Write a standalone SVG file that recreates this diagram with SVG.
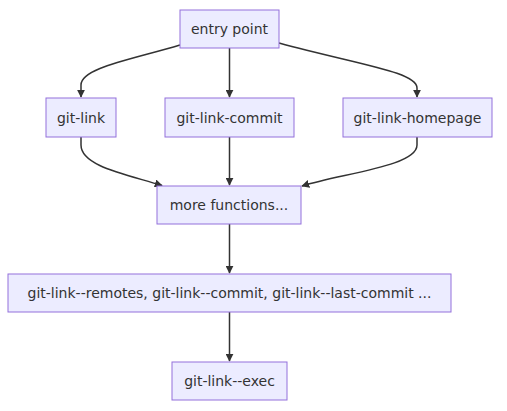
<svg xmlns="http://www.w3.org/2000/svg" width="507" height="411" viewBox="0 0 507 411">
<style>
.node rect{fill:#ECECFF;stroke:#9370DB;stroke-width:1}
.node text{font-family:"DejaVu Sans",sans-serif;font-size:14px;fill:#333;text-anchor:middle}
.edge{fill:none;stroke:#333;stroke-width:1.5}
</style>
<defs>
<marker id="arr" viewBox="0 0 10 10" refX="9" refY="5" markerWidth="8" markerHeight="8" markerUnits="userSpaceOnUse" orient="auto">
<path d="M0,0 L10,5 L0,10 z" fill="#333"/>
</marker>
</defs>
<rect width="507" height="411" fill="#fff"/>
<g id="connectors">
<path class="edge" d="M180,45 C130,60 81,68 81,85 L81,97" marker-end="url(#arr)"/>
<path class="edge" d="M229.5,48 L229.5,97" marker-end="url(#arr)"/>
<path class="edge" d="M279,43 C360,65 417,72 417,88 L417,97" marker-end="url(#arr)"/>
<path class="edge" d="M81,137 L81,145 C81,166 125,174 162,185.5" marker-end="url(#arr)"/>
<path class="edge" d="M229.5,137 L229.5,185" marker-end="url(#arr)"/>
<path class="edge" d="M417,137 L417,145 C417,166 345,173 302,186" marker-end="url(#arr)"/>
<path class="edge" d="M229.5,224 L229.5,273" marker-end="url(#arr)"/>
<path class="edge" d="M229.5,312 L229.5,361" marker-end="url(#arr)"/>
</g>
<g id="entry" class="node"><rect x="180" y="10" width="99" height="38"/><text x="229.5" y="34">entry point</text></g>
<g id="gitlink" class="node"><rect x="46" y="98" width="70" height="39"/><text x="81" y="122.5">git-link</text></g>
<g id="gitlinkcommit" class="node"><rect x="165" y="98" width="129" height="39"/><text x="229.5" y="122.5">git-link-commit</text></g>
<g id="gitlinkhomepage" class="node"><rect x="343" y="98" width="149" height="39"/><text x="417.5" y="122.5">git-link-homepage</text></g>
<g id="more" class="node"><rect x="157" y="186" width="144" height="38"/><text x="229" y="210">more functions...</text></g>
<g id="internal" class="node"><rect x="8" y="274" width="443" height="38"/><text x="229.5" y="298">git-link--remotes, git-link--commit, git-link--last-commit ...</text></g>
<g id="exec" class="node"><rect x="172" y="362" width="115" height="38"/><text x="229.5" y="386">git-link--exec</text></g>
</svg>
